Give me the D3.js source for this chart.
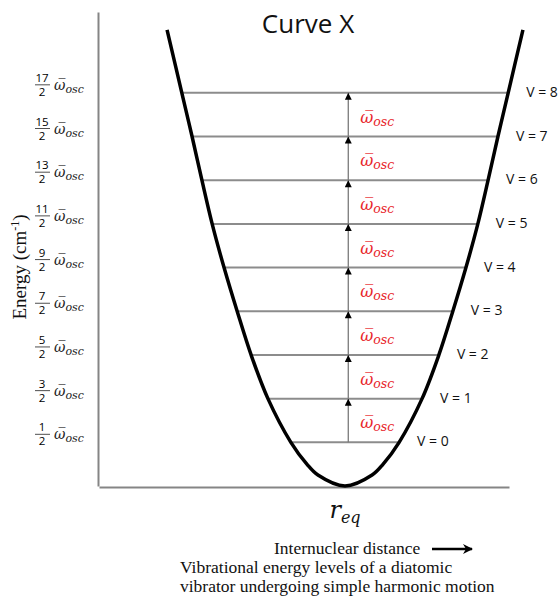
<!DOCTYPE html>
<html>
<head>
<meta charset="utf-8">
<script src="https://cdn.jsdelivr.net/npm/d3@7"></script>
<style>
  body { margin: 0; background: #fff; }
  svg { display: block; }
</style>
</head>
<body>
<div id="chart"></div>
<script>
// vibrational quantum numbers and energy numerators (E = n/2 * w_osc)
var levels = [0, 1, 2, 3, 4, 5, 6, 7, 8];
var numerators = [1, 3, 5, 7, 9, 11, 13, 15, 17];
var levelEnergy = [0.5, 1.5, 2.5, 3.5, 4.5, 5.5, 6.5, 7.5, 8.5];

// where each level meets the potential curve (internuclear distance, arb. units)
var levelLeft = [4.68, 4.12, 3.71, 3.37, 3.05, 2.76, 2.51, 2.27, 2.02];
var levelRight = [7.32, 7.88, 8.29, 8.63, 8.95, 9.24, 9.49, 9.73, 9.98];

// other points: the two ends and the bottom of the well
var curveEnds = [[1.66, 9.94], [10.34, 9.94]];
var curveBottom = [[5.07, 0], [5.34, -0.25], [6.0, -0.5], [6.66, -0.25], [6.93, 0]];
var rEq = 6.0;
var arrowR = 6.08;

var svgWidth = 558;
var svgHeight = 603;

var svg = d3.select("#chart")
  .append("svg")
  .attr("width", svgWidth)
  .attr("height", svgHeight);

var xScale = d3.scaleLinear().domain([0, 10]).range([99, 509]);
var yScale = d3.scaleLinear().domain([-0.5, 10.35]).range([486, 12]);

// arrowhead markers
var defs = svg.append("defs");
defs.append("marker")
  .attr("id", "head")
  .attr("markerUnits", "userSpaceOnUse")
  .attr("viewBox", "0 0 10 10")
  .attr("refX", 10)
  .attr("refY", 5)
  .attr("markerWidth", 9)
  .attr("markerHeight", 7)
  .attr("orient", "auto")
  .append("path")
  .attr("d", "M0,0 L10,5 L0,10 Z")
  .attr("fill", "#000");
defs.append("marker")
  .attr("id", "bighead")
  .attr("markerUnits", "userSpaceOnUse")
  .attr("viewBox", "0 0 10 10")
  .attr("refX", 9)
  .attr("refY", 5)
  .attr("markerWidth", 11)
  .attr("markerHeight", 10)
  .attr("orient", "auto")
  .append("path")
  .attr("d", "M0,0 L10,5 L0,10 L3,5 Z")
  .attr("fill", "#000");

// axes (no ticks, just the lines)
var leftAxis = d3.axisLeft(yScale).tickValues([]).tickSizeOuter(0);
var bottomAxis = d3.axisBottom(xScale).tickValues([]).tickSizeOuter(0);

svg.append("g")
  .attr("transform", `translate(${xScale(0) - 1}, 0)`)
  .call(leftAxis)
  .select(".domain").attr("stroke", "#858585").attr("stroke-width", 2);

svg.append("g")
  .attr("transform", `translate(0, ${yScale(-0.5) + 1})`)
  .call(bottomAxis)
  .select(".domain").attr("stroke", "#858585").attr("stroke-width", 2);

// energy level lines
svg.append("g").selectAll("line")
  .data(levels)
  .enter()
  .append("line")
  .attr("x1", d => xScale(levelLeft[d]))
  .attr("x2", d => xScale(levelRight[d]))
  .attr("y1", d => yScale(levelEnergy[d]))
  .attr("y2", d => yScale(levelEnergy[d]))
  .attr("stroke", "#8c8c8c")
  .attr("stroke-width", 2);

// potential curve
var curvePts = [curveEnds[0]]
  .concat(levels.slice().reverse().map(d => [levelLeft[d], levelEnergy[d]]))
  .concat(curveBottom)
  .concat(levels.map(d => [levelRight[d], levelEnergy[d]]))
  .concat([curveEnds[1]]);

var line = d3.line()
  .x(d => xScale(d[0]))
  .y(d => yScale(d[1]))
  .curve(d3.curveCatmullRom.alpha(0.5));

svg.append("path")
  .attr("d", line(curvePts))
  .attr("fill", "none")
  .attr("stroke", "#000")
  .attr("stroke-width", 3.5);

// transition arrows between neighbouring levels
svg.append("g").selectAll("line")
  .data(levels.slice(0, -1))
  .enter()
  .append("line")
  .attr("x1", xScale(arrowR))
  .attr("x2", xScale(arrowR))
  .attr("y1", d => yScale(levelEnergy[d]))
  .attr("y2", d => yScale(levelEnergy[d + 1]))
  .attr("stroke", "#7a7a7a")
  .attr("stroke-width", 1.3)
  .attr("marker-end", "url(#head)");

// red w_osc labels between levels
var redLabels = svg.append("g").selectAll("text")
  .data(levels.slice(0, -1))
  .enter()
  .append("text")
  .attr("x", xScale(arrowR) + 12)
  .attr("y", d => yScale((levelEnergy[d] + levelEnergy[d + 1]) / 2) + 8)
  .attr("fill", "#e8262b")
  .attr("font-family", "DejaVu Serif")
  .attr("font-style", "italic")
  .attr("font-size", "16px");
redLabels.append("tspan").text("\u03C9\u0305");
redLabels.append("tspan").attr("dy", 3).attr("font-size", "12.5px").text("osc");

// V = n labels on the right
svg.append("g").selectAll("text")
  .data(levels)
  .enter()
  .append("text")
  .attr("x", d => xScale(levelRight[d]) + 18)
  .attr("y", d => yScale(levelEnergy[d]) + 4)
  .attr("font-family", "Open Sans")
  .attr("font-size", "14px")
  .attr("fill", "#111")
  .text(d => "V = " + d);

// fraction labels on the left
var fracs = svg.append("g").selectAll("g")
  .data(levels)
  .enter()
  .append("g")
  .attr("transform", d => `translate(0, ${yScale(levelEnergy[d]) - 8})`);

fracs.append("text")
  .attr("x", 42).attr("y", -3)
  .attr("text-anchor", "middle")
  .attr("font-family", "Open Sans")
  .attr("font-size", "11.5px")
  .text(d => numerators[d]);
fracs.append("line")
  .attr("x1", 35).attr("x2", 50)
  .attr("y1", 0).attr("y2", 0)
  .attr("stroke", "#222").attr("stroke-width", 0.8);
fracs.append("text")
  .attr("x", 42).attr("y", 11)
  .attr("text-anchor", "middle")
  .attr("font-family", "Open Sans")
  .attr("font-size", "11.5px")
  .text("2");
var om = fracs.append("text")
  .attr("x", 54).attr("y", 5)
  .attr("font-family", "DejaVu Serif")
  .attr("font-style", "italic")
  .attr("font-size", "14px")
  .attr("fill", "#222");
om.append("tspan").text("\u03C9\u0305");
om.append("tspan").attr("dy", 3).attr("font-size", "11px").text("osc");

// y axis label
var yLabel = svg.append("text")
  .attr("transform", "translate(26, 267) rotate(-90)")
  .attr("text-anchor", "middle")
  .attr("font-family", "Liberation Serif")
  .attr("font-size", "19px")
  .attr("fill", "#111");
yLabel.append("tspan").text("Energy (cm");
yLabel.append("tspan").attr("dy", -7).attr("font-size", "12px").text("-1");
yLabel.append("tspan").attr("dy", 7).text(")");

// title
svg.append("text")
  .attr("x", 308).attr("y", 33)
  .attr("text-anchor", "middle")
  .attr("font-family", "Open Sans")
  .attr("font-size", "26px")
  .attr("fill", "#111")
  .text("Curve X");

// r_eq under the minimum
var req = svg.append("text")
  .attr("x", xScale(rEq)).attr("y", 518)
  .attr("text-anchor", "middle")
  .attr("font-family", "DejaVu Serif")
  .attr("font-style", "italic")
  .attr("fill", "#111")
  .attr("font-size", "24px");
req.append("tspan").text("r");
req.append("tspan").attr("dy", 5).attr("font-size", "16px").text("eq");

// bottom caption
var caption = ["Internuclear distance", "Vibrational energy levels of a diatomic",
  "vibrator undergoing simple harmonic motion"];
svg.append("g").selectAll("text")
  .data(caption)
  .enter()
  .append("text")
  .attr("x", (d, i) => i === 0 ? 274 : 180)
  .attr("y", (d, i) => 554 + i * 19)
  .attr("font-family", "Liberation Serif")
  .attr("font-size", "17.5px")
  .attr("fill", "#111")
  .text(d => d);

svg.append("line")
  .attr("x1", 432).attr("x2", 472)
  .attr("y1", 549).attr("y2", 549)
  .attr("stroke", "#000")
  .attr("stroke-width", 2.5)
  .attr("marker-end", "url(#bighead)");
</script>
</body>
</html>
